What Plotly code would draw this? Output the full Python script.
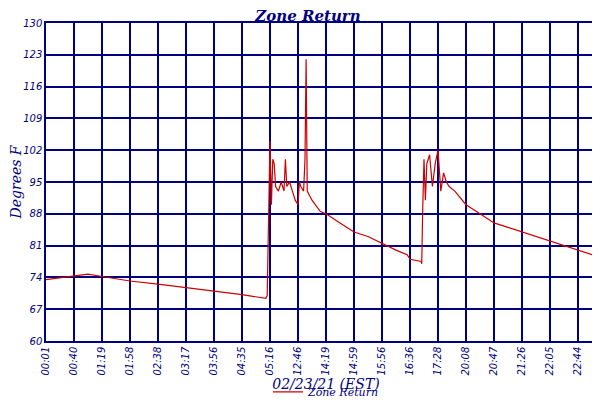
import plotly.graph_objects as go

tick_labels = ["00:01","00:40","01:19","01:58","02:38","03:17","03:56","04:35","05:16","12:46",
               "14:19","14:59","15:56","16:36","17:28","20:08","20:47","21:26","22:05","22:44","23:24"]
x_pos = [0,1,1.5,2,3,4,5,6,7,7.5,7.85,7.9,7.93,7.96,8.0,8.05,8.1,8.15,8.2,8.3,8.4,8.5,8.55,8.6,8.7,8.8,8.9,9.0,9.05,9.1,
         9.2,9.25,9.29,9.33,9.5,9.8,10,10.5,11,11.5,12,12.5,12.9,13,13.4,13.42,13.45,13.5,13.55,13.6,13.7,13.8,13.9,14.0,
         14.1,14.2,14.3,14.4,14.6,15,15.5,16,16.5,17,17.5,18,18.5,19,19.5,19.93,20]
zone_return = [73.5,74.3,74.7,74.2,73.2,72.5,71.8,71,70.2,69.8,69.4,70,82,97,104,90,100,99,94,93,95,93,100,94,95,93,91,90,95,94,
               93,100,122,93,91,88.5,88,86,84,83,81.5,80,79,78,77.5,77,88,100,91,99,101,94,99,102,93,97,95,94,93,90,
               88,86,85,84,83,82,81,80,79,78.5,81]
y_ticks = [60,67,74,81,88,95,102,109,116,123,130]

navy = "#000080"
font = dict(family="DejaVu Sans", color=navy, size=10)
fig = go.Figure(go.Scatter(x=x_pos, y=zone_return, mode="lines", name="Zone Return",
                           line=dict(color="#cc0000", width=1.2)))
fig.update_layout(
    width=600, height=400, margin=dict(l=38, r=2, t=15, b=67, autoexpand=False),
    paper_bgcolor="white", plot_bgcolor="white", font=font,
    title=dict(text="<b><i>Zone Return</i></b>", x=0.5, xanchor="center", y=0.98, yanchor="middle",
               font=dict(size=15, color=navy, family="DejaVu Serif")),
    showlegend=True,
    legend=dict(orientation="h", x=0.5, xanchor="center", y=-0.16, yanchor="middle",
                font=dict(size=11, color=navy, style="italic", family="DejaVu Serif")),
)
fig.update_xaxes(range=[0,20], tickvals=list(range(21)), ticktext=[f"<i>{t}</i>" for t in tick_labels],
                 tickangle=-90, showgrid=True, gridcolor=navy, gridwidth=1.5, zeroline=False, automargin=False,
                 showline=True, linecolor=navy, mirror=True, linewidth=1.5,
                 title=dict(text="<i>02/23/21 (EST)</i>", font=dict(size=14, color=navy, family="DejaVu Serif"), standoff=4))
fig.update_yaxes(range=[60,130], tickvals=y_ticks, ticktext=[f"<i>{v}</i>" for v in y_ticks], automargin=False,
                 showgrid=True, gridcolor=navy, gridwidth=1.5, zeroline=False,
                 showline=True, linecolor=navy, mirror=True, linewidth=1.5,
                 title=dict(text="<i>Degrees F</i>", font=dict(size=14, color=navy, family="DejaVu Serif"), standoff=2))
fig.write_html("out.html")
